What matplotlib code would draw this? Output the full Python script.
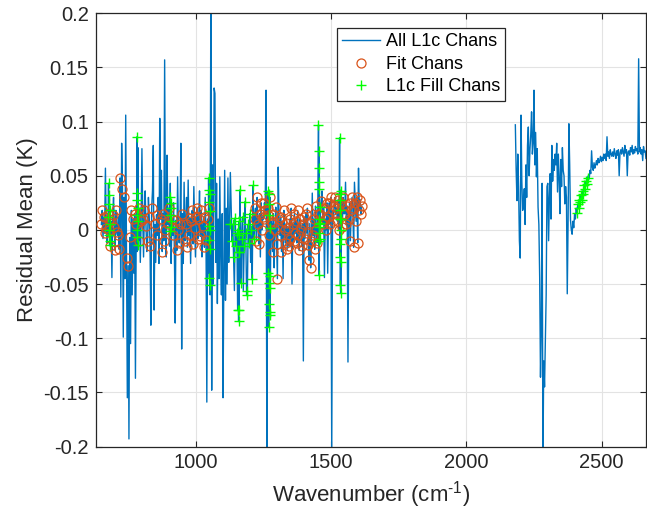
import numpy as np
import matplotlib
matplotlib.use("Agg")
import matplotlib.pyplot as plt

# ---------------- data (residual mean in mK) ----------------
wn_start_a = 650.0      # first channel of the long/mid-wave band
wn_start_b = 2181.0     # first channel of the short-wave band
wn_step = 3.0

res_a_mK = [
    5, 18, -8, 12, -3, 57, 2, -12, 15, 0,
    10, -15, 8, -44, 14, 30, 3, -19, 18, -2,
    -5, 12, -18, 48, -62, 80, 38, -99, 30, -45,
    106, -26, -155, -33, -193, -7, -105, 18, -60, 10,
    -40, 15, -137, 5, -20, 76, -10, 20, -30, 8,
    75, 10, -25, 18, 36, 4, -20, -10, 30, 12,
    -15, -88, 20, 36, 78, -74, 5, -30, 14, -5,
    30, -31, 103, 10, 55, -20, 15, -10, 157, 0,
    -25, 69, 5, 20, -15, 43, -31, 10, -5, 25,
    -20, -86, 9, -19, 49, 0, -12, 5, 80, -110,
    15, -31, 44, -10, 5, 30, -16, 46, -5, 11,
    -31, 8, 18, -13, 40, 2, -25, 12, 20, -8,
    10, 36, -6, 18, -25, 4, 12, -16, 30, -9,
    -159, 10, -40, 20, -60, 230, -148, 60, -50, 131,
    126, -30, 43, -68, 10, -45, 49, -20, -60, 15,
    -155, -40, 55, -65, 20, -50, 48, -30, 5, 53,
    20, -10, 5, -25, -56, 11, -15, -3, -74, 0,
    -20, 37, -49, -8, 12, -56, -15, 26, -3, -60,
    -56, 5, -12, 15, -30, 0, -45, 41, -8, 10,
    20, -10, 30, 5, -13, 15, -25, 25, 0, 12,
    10, 25, 18, 129, -210, 14, 20, -5, 30, 8,
    5, -20, 15, -35, 0, 21, -13, -45, 58, 10,
    -5, 12, -20, 8, -45, 18, 0, -12, 6, -18,
    2, -15, 10, -8, 20, -50, 5, -10, 15, -3,
    8, -12, 18, -5, -19, 10, 0, -15, 5, -121,
    12, -8, 15, -3, 20, -14, -28, 6, -35, -10,
    34, -5, 10, -18, 22, 0, -12, 15, 5, -8,
    15, 27, 36, 5, 20, -44, 10, 0, 25, -40,
    12, 25, 5, 30, -210, 18, 8, 22, 30, 15,
    20, 8, 28, 0, 18, 10, 25, 3, 30, 15,
    15, 44, 5, 22, -122, 10, 25, -10, 18, 30,
    20, -16, 44, 25, 8, 30, -12, 57, 18, 28,
    15, 22,
]
# channel kind: 'o' fit channel, '+' L1c fill channel, '.' other channel
kind_a = ("oo.oo.o.oo" "ooo.o.oooo" "o.oo..o.o." ".o.o.o.o.o" ".o.o..oo.o"
          ".o.o.o.o.o" "o.o...o.oo" "...o.ooo.o" "..oo...oo." "..oo.ooo.."
          "o..oo.o.oo" ".ooo.o.ooo" "o.oo.ooo.o" ".o.o......" ".........."
          "........+." ".+++.+++++" "+++++.++++" "++++.++++o" "oooooo.ooo"
          "ooo..ooooo" "ooo.oooo.o" "oooo.ooooo" "ooooo.oooo" "ooooooooo."
          "oooooooooo" ".ooooooo++" "oo.oo.ooo." "oooo.ooooo" "oooo++oooo"
          "o.oo.ooooo" "oo.oooo.oo" "oo")

res_b_mK = [
    97, 55, 27, 70, 40, -10, -26, 106, 45, 18,
    21, 38, 5, 60, 30, 78, 95, 50, 74, 88,
    109, 70, 80, 129, 60, 90, 49, 75, 21, 5,
    -44, -136, -90, 43, -215, -121, -145, -100, -60, 40,
    43, -10, 30, 52, 10, 78, 45, 65, 55, 70,
    60, 80, 35, 70, 48, 15, 65, 40, 76, 55,
    50, 24, 40, 30, -59, 5, 98, 60, 9, 0,
    -4, 8, 2, 14, 10, 20, 16, 24, 20, 28,
    26, 32, 28, 36, 33, 41, 38, 45, 42, 48,
    50, 47, 55, 52, 73, 58, 55, 62, 57, 60,
    64, 60, 66, 62, 64, 68, 63, 67, 64, 70,
    66, 70, 64, 86, 68, 72, 66, 74, 70, 68,
    72, 68, 75, 70, 66, 73, 69, 74, 50, 71,
    74, 70, 76, 72, 68, 78, 71, 74, 50, 72,
    73, 69, 76, 72, 78, 70, 74, 71, 77, 73,
    75, 70, 158, 72, 76, 70, 74, 64, 77, 72,
    73, 66,
]
kind_b = (".........." ".........." ".........." ".........." ".........."
          ".........." ".........." "......++++" "++++++++++" ".........."
          ".........." ".........." ".........." ".........." ".........."
          ".........." "..")

# closely packed fill channels (module gaps)
fill_wn = [
    675.6, 676.4, 677.2, 678.0, 678.8, 679.6, 680.4, 681.2, 682.0, 682.8,
    781.0, 781.5, 782.0, 782.5, 783.0, 783.5, 784.0, 784.5, 785.0,
    904.0, 904.6, 905.2, 905.8, 906.4, 907.0, 907.6,
    1046.5, 1047.1, 1047.7, 1048.3, 1048.9, 1049.5, 1050.1, 1050.7, 1051.3, 1051.9, 1052.5,
    1157.5, 1158.0, 1158.5, 1159.0, 1159.5,
    1267.0, 1267.6, 1268.2, 1268.8, 1269.4, 1270.0, 1270.6, 1271.2, 1271.8, 1272.4, 1273.0, 1273.6, 1274.2,
    1453.0, 1453.4, 1453.8, 1454.2, 1454.6, 1455.0, 1455.4, 1455.8, 1456.2, 1456.6, 1457.0, 1457.4,
    1531.0, 1531.5, 1532.0, 1532.5, 1533.0, 1533.5, 1534.0, 1534.5, 1535.0, 1535.5, 1536.0, 1536.5,
]
fill_mK = [
    12, 43, -5, 24, 0, 32, -14, 18, 5, -10,
    34, -7, 86, 14, 0, 28, -14, 20, 8,
    14, 30, -1, 25, 8, 20, 3,
    48, -9, 37, 4, 26, -44, 17, -18, 33, -51, 0,
    -84, -20, 8, -74, -5,
    36, -40, 33, -90, 24, -49, 14, -68, 2, -76, -43, -54, -79,
    97, -10, 73, 3, 57, -42, 44, 10, 38, -3, 21, 6,
    85, 33, -13, 28, -25, 10, -51, 0, -58, -8, -30, 36,
]

x_ticks = [1000, 1500, 2000, 2500]
y_ticks = [-0.2, -0.15, -0.1, -0.05, 0, 0.05, 0.1, 0.15, 0.2]
y_ticklabels = ["-0.2", "-0.15", "-0.1", "-0.05", "0", "0.05", "0.1", "0.15", "0.2"]
legend_labels = ["All L1c Chans", "Fit Chans", "L1c Fill Chans"]

# ---------------- assemble ----------------
res_a = np.array(res_a_mK) / 1000.0
res_b = np.array(res_b_mK) / 1000.0
wn_a = wn_start_a + wn_step * np.arange(len(res_a))
wn_b = wn_start_b + wn_step * np.arange(len(res_b))
ka = np.array(list(kind_a))
kb = np.array(list(kind_b))
fw = np.array(fill_wn)
fv = np.array(fill_mK) / 1000.0

lw_all = np.concatenate([wn_a, fw])
lv_all = np.concatenate([res_a, fv])
order = np.argsort(lw_all, kind="stable")
line_x = np.concatenate([lw_all[order], [np.nan], wn_b])
line_y = np.concatenate([lv_all[order], [np.nan], res_b])

fit_x = wn_a[ka == "o"]
fit_y = res_a[ka == "o"]
fill_x = np.concatenate([wn_a[ka == "+"], fw, wn_b[kb == "+"]])
fill_y = np.concatenate([res_a[ka == "+"], fv, res_b[kb == "+"]])

# ---------------- plot ----------------
plt.rcParams["font.family"] = ["Liberation Sans", "DejaVu Sans"]
plt.rcParams["axes.unicode_minus"] = False
plt.rcParams["mathtext.fontset"] = "custom"
plt.rcParams["mathtext.rm"] = "Liberation Sans"
plt.rcParams["mathtext.it"] = "Liberation Sans"

txt = "#262626"
fig = plt.figure(figsize=(6.47, 5.15), dpi=100)
ax = fig.add_axes([0.1479, 0.1330, 0.8513, 0.8412])

ax.plot(line_x, line_y, color="#0072BD", lw=1.0, label=legend_labels[0], zorder=2)
ax.plot(fit_x, fit_y, ls="none", marker="o", ms=6.5, mfc="none", mec="#D95319",
        mew=0.9, label=legend_labels[1], zorder=3)
ax.plot(fill_x, fill_y, ls="none", marker="+", ms=7, mec="#00FF00",
        mew=1.0, label=legend_labels[2], zorder=4)

ax.set_xlim(629, 2666)
ax.set_ylim(-0.2, 0.2)
ax.set_xticks(x_ticks)
ax.set_xticklabels([str(v) for v in x_ticks])
ax.set_yticks(y_ticks)
ax.set_yticklabels(y_ticklabels)
ax.grid(True, color="#E3E3E3", lw=0.8)
ax.set_axisbelow(True)
ax.tick_params(direction="in", length=4, width=0.8, colors=txt, labelsize=14.5,
               top=True, right=True, pad=5)
for s in ax.spines.values():
    s.set_color(txt)
    s.set_linewidth(0.9)

ax.set_xlabel(r"Wavenumber (cm$^{\text{-1}}$)", fontsize=16, color=txt, labelpad=5)
ax.set_ylabel("Residual Mean (K)", fontsize=16, color=txt, labelpad=4)

leg = ax.legend(loc="upper left", bbox_to_anchor=(0.438, 0.966), borderaxespad=0,
                fontsize=13, fancybox=False, edgecolor=txt, framealpha=1,
                handlelength=2.1, handletextpad=0.3, labelspacing=0.3, borderpad=0.3)
leg.get_frame().set_linewidth(0.9)
for t in leg.get_texts():
    t.set_color("black")

fig.savefig("out.png", dpi=100)
